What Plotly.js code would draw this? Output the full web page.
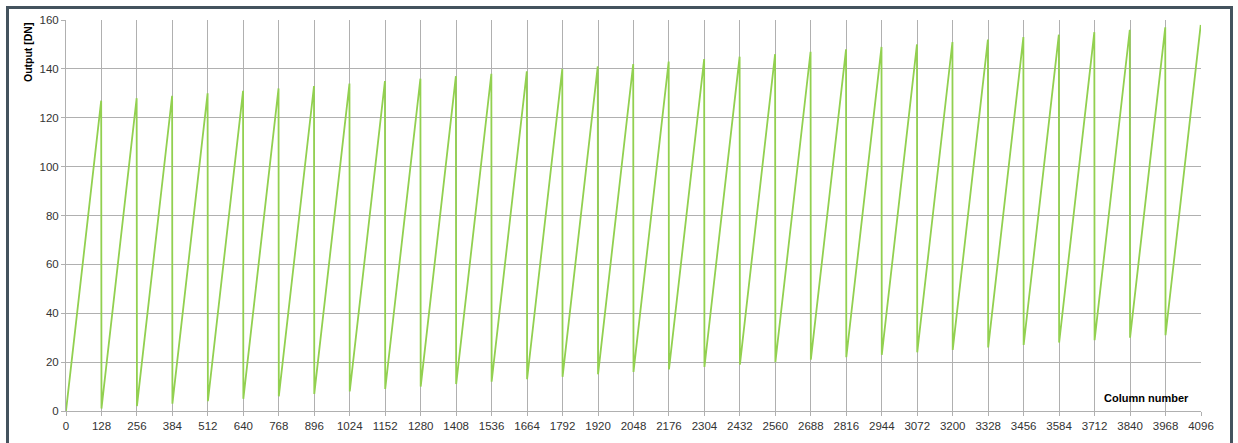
<!DOCTYPE html>
<html>
<head>
<meta charset="utf-8">
<script src="https://cdn.plot.ly/plotly-3.0.1.min.js"></script>
<style>
  html, body { margin: 0; padding: 0; background: #ffffff; }
  #wrap { position: relative; width: 1238px; height: 443px; overflow: hidden; }
  #frame { position: absolute; left: 6px; top: 6px; width: 1221px; height: 460px;
           border: 3px solid #44535e; pointer-events: none; }
  #chart { position: absolute; left: 0; top: 0; width: 1238px; height: 443px; }
</style>
</head>
<body>
<div id="wrap">
  <div id="chart"></div>
  <div id="frame"></div>
</div>
<script>
// Column where each 128-column ramp starts, and where it ends (peak)
const rampStartColumns = [0,128,256,384,512,640,768,896,1024,1152,1280,1408,1536,1664,1792,1920,
                          2048,2176,2304,2432,2560,2688,2816,2944,3072,3200,3328,3456,3584,3712,3840,3968];
const rampEndColumns   = [127,255,383,511,639,767,895,1023,1151,1279,1407,1535,1663,1791,1919,2047,
                          2175,2303,2431,2559,2687,2815,2943,3071,3199,3327,3455,3583,3711,3839,3967,4095];
// Output [DN] at the start (trough) and end (peak) of each ramp
const rampStartValues  = [0,1,2,3,4,5,6,7,8,9,10,11,12,13,14,15,16,17,18,19,20,21,22,23,24,25,26,27,28,29,30,31];
const rampEndValues    = [127,128,129,130,131,132,133,134,135,136,137,138,139,140,141,142,
                          143,144,145,146,147,148,149,150,151,152,153,154,155,156,157,158];
const xTickValues = [0,128,256,384,512,640,768,896,1024,1152,1280,1408,1536,1664,1792,1920,2048,
                     2176,2304,2432,2560,2688,2816,2944,3072,3200,3328,3456,3584,3712,3840,3968,4096];
const yTickValues = [0,20,40,60,80,100,120,140,160];

const xs = [], ys = [];
for (let i = 0; i < rampStartColumns.length; i++) {
  xs.push(rampStartColumns[i], rampEndColumns[i]);
  ys.push(rampStartValues[i], rampEndValues[i]);
}

const gridColor = '#b0b0b0';
const tickFont = {family: 'Liberation Sans, Arial, sans-serif', size: 11.5, color: '#333333'};

const trace = {
  x: xs, y: ys, type: 'scatter', mode: 'lines',
  line: {color: '#92d050', width: 1.8},
  hoverinfo: 'x+y', showlegend: false
};

const layout = {
  width: 1238, height: 443,
  margin: {l: 66, r: 36.5, t: 20, b: 32, pad: 0},
  paper_bgcolor: '#ffffff', plot_bgcolor: '#ffffff',
  xaxis: {
    range: [0, 4096], tickmode: 'array', tickvals: xTickValues,
    ticktext: xTickValues.map(String),
    showgrid: true, gridcolor: gridColor, gridwidth: 1,
    showline: true, linecolor: gridColor, linewidth: 1, mirror: false,
    ticks: 'outside', ticklen: 4, tickcolor: gridColor, tickwidth: 1,
    tickfont: tickFont, zeroline: false, fixedrange: true
  },
  yaxis: {
    range: [0, 160], tickmode: 'array', tickvals: yTickValues,
    showgrid: true, gridcolor: gridColor, gridwidth: 1,
    showline: true, linecolor: gridColor, linewidth: 1,
    ticks: 'outside', ticklen: 4, tickcolor: gridColor, tickwidth: 1,
    tickfont: tickFont, zeroline: false, fixedrange: true
  },
  annotations: [
    {text: '<b>Output [DN]</b>', xref: 'paper', yref: 'paper',
     x: -0.0335, y: 0.918, xanchor: 'center', yanchor: 'middle', textangle: -90,
     showarrow: false, font: {family: 'Liberation Sans, Arial, sans-serif', size: 10.5, color: '#000000'}},
    {text: '<b>Column number</b>', xref: 'paper', yref: 'paper',
     x: 0.9916, y: 0.0332, xanchor: 'right', yanchor: 'middle',
     showarrow: false, font: {family: 'Liberation Sans, Arial, sans-serif', size: 11, color: '#000000'}}
  ]
};

Plotly.newPlot('chart', [trace], layout, {displayModeBar: false, staticPlot: true});
</script>
</body>
</html>
